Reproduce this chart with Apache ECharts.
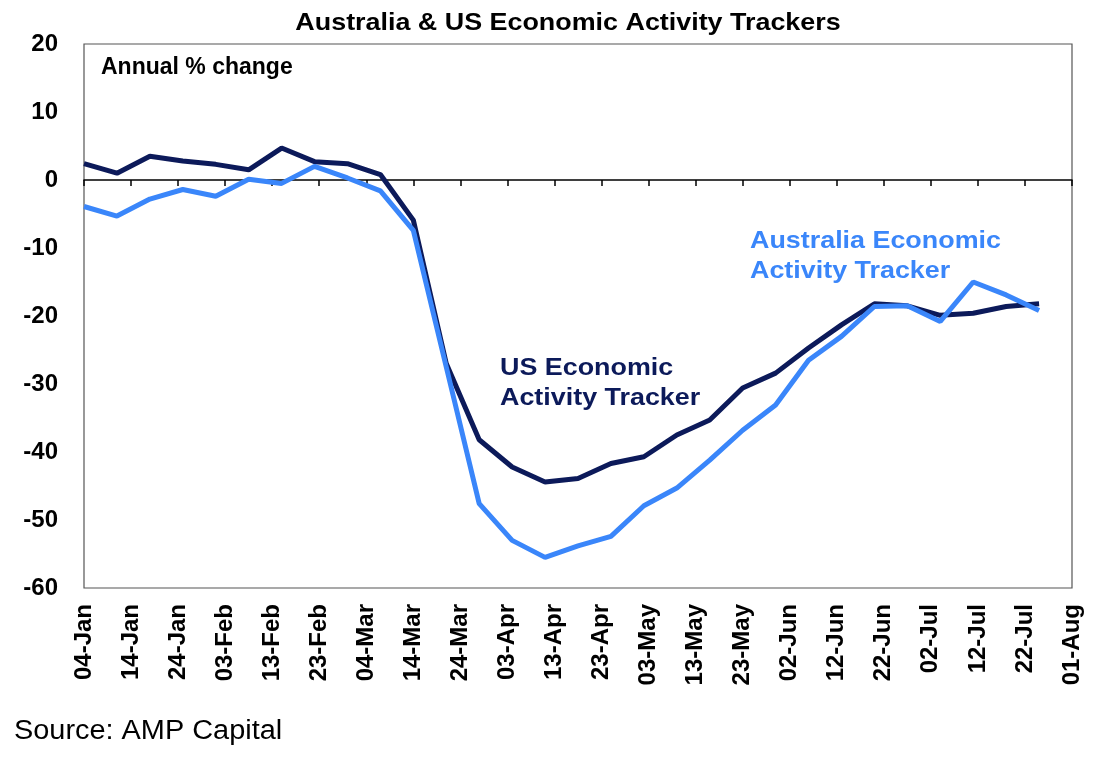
<!DOCTYPE html>
<html>
<head>
<meta charset="utf-8">
<script src="https://cdn.jsdelivr.net/npm/echarts@6/dist/echarts.min.js"></script>
<style>
  html, body { margin: 0; padding: 0; background: #fff; }
  #chart { width: 1111px; height: 762px; }
</style>
</head>
<body>
<div id="chart"></div>
<script>
// ===== Data (weekly, annual % change) =====
const weekDates = [
  '2020-01-04','2020-01-11','2020-01-18','2020-01-25',
  '2020-02-01','2020-02-08','2020-02-15','2020-02-22','2020-02-29',
  '2020-03-07','2020-03-14','2020-03-21','2020-03-28',
  '2020-04-04','2020-04-11','2020-04-18','2020-04-25',
  '2020-05-02','2020-05-09','2020-05-16','2020-05-23','2020-05-30',
  '2020-06-06','2020-06-13','2020-06-20','2020-06-27',
  '2020-07-04','2020-07-11','2020-07-18','2020-07-25'
];
const usTracker = [
  2.4, 1.0, 3.5, 2.8, 2.3, 1.5, 4.7, 2.7, 2.4, 0.8,
  -5.9, -27.0, -38.2, -42.2, -44.4, -43.9, -41.7, -40.7, -37.5, -35.3,
  -30.6, -28.4, -24.7, -21.3, -18.2, -18.5, -19.9, -19.6, -18.6, -18.2
];
const ausTracker = [
  -3.9, -5.3, -2.8, -1.4, -2.4, 0.1, -0.5, 2.0, 0.3, -1.6,
  -7.4, -27.5, -47.6, -53.0, -55.5, -53.8, -52.4, -47.9, -45.3, -41.2,
  -36.8, -33.1, -26.5, -23.0, -18.6, -18.5, -20.8, -15.0, -16.9, -19.2
];
const axisStart = '2020-01-04';
const axisEnd = '2020-08-01';
const yTicks = { min: -60, max: 20, step: 10 };

const DAY = 86400000;
const MONTHS = ['Jan','Feb','Mar','Apr','May','Jun','Jul','Aug','Sep','Oct','Nov','Dec'];
const t0 = Date.parse(axisStart + 'T00:00:00Z');
const dayOffset = s => Math.round((Date.parse(s + 'T00:00:00Z') - t0) / DAY);
const fmtDay = v => {
  const d = new Date(t0 + v * DAY);
  return String(d.getUTCDate()).padStart(2, '0') + '-' + MONTHS[d.getUTCMonth()];
};
const toPairs = vals => weekDates.map((s, i) => [dayOffset(s), vals[i]]);

const FONT = '"Liberation Sans", Arial, sans-serif';
const US_COL = '#0c1a5a';
const AUS_COL = '#3a86fa';
const WIDE = 1.12; // reference text runs a little wider than Arial

const chart = echarts.init(document.getElementById('chart'));
chart.setOption({
  animation: false,
  backgroundColor: '#fff',
  grid: {
    left: 84, top: 44, right: 39, bottom: 174,
    show: true, borderColor: '#555', borderWidth: 1.2, backgroundColor: 'transparent'
  },
  xAxis: [
    {
      // labels along the bottom of the box
      type: 'value', position: 'bottom',
      min: 0, max: dayOffset(axisEnd), interval: 10,
      axisLine: { show: false, onZero: false }, axisTick: { show: false }, splitLine: { show: false },
      axisLabel: {
        rotate: 90, margin: 16, formatter: fmtDay,
        fontFamily: FONT, fontSize: 24, fontWeight: 'bold', color: '#000'
      }
    },
    {
      // axis line + ticks sitting on zero
      type: 'value', position: 'top',
      min: 0, max: dayOffset(axisEnd), interval: 10,
      axisLine: { show: true, onZero: true, lineStyle: { color: '#000', width: 1.5 } },
      axisTick: { show: true, inside: true, length: 6, lineStyle: { color: '#000', width: 1.5 } },
      axisLabel: { show: false }, splitLine: { show: false }
    }
  ],
  yAxis: {
    type: 'value', min: yTicks.min, max: yTicks.max, interval: yTicks.step,
    axisLine: { show: false }, axisTick: { show: false }, splitLine: { show: false },
    axisLabel: { margin: 26, fontFamily: FONT, fontSize: 24, fontWeight: 'bold', color: '#000' }
  },
  series: [
    {
      name: 'US Economic Activity Tracker', type: 'line', xAxisIndex: 0,
      data: toPairs(usTracker), showSymbol: false, z: 2,
      lineStyle: { color: US_COL, width: 5 }, itemStyle: { color: US_COL }
    },
    {
      name: 'Australia Economic Activity Tracker', type: 'line', xAxisIndex: 0,
      data: toPairs(ausTracker), showSymbol: false, z: 3,
      lineStyle: { color: AUS_COL, width: 5 }, itemStyle: { color: AUS_COL }
    }
  ],
  graphic: [
    { type: 'text', x: 568, y: 11, scaleX: WIDE,
      style: { text: 'Australia & US Economic Activity Trackers', textAlign: 'center',
               font: 'bold 24px ' + FONT, fill: '#000' } },
    { type: 'text', x: 101, y: 56,
      style: { text: 'Annual % change', font: 'bold 23px ' + FONT, fill: '#000' } },
    { type: 'text', x: 500, y: 353, scaleX: WIDE,
      style: { text: 'US Economic\nActivity Tracker', font: 'bold 24px ' + FONT, fill: US_COL, lineHeight: 30 } },
    { type: 'text', x: 750, y: 226, scaleX: WIDE,
      style: { text: 'Australia Economic\nActivity Tracker', font: 'bold 24px ' + FONT, fill: AUS_COL, lineHeight: 30 } },
    { type: 'text', x: 14, y: 718, scaleX: 1.07,
      style: { text: 'Source: AMP Capital', font: '27px ' + FONT, fill: '#000' } }
  ]
});
</script>
</body>
</html>
